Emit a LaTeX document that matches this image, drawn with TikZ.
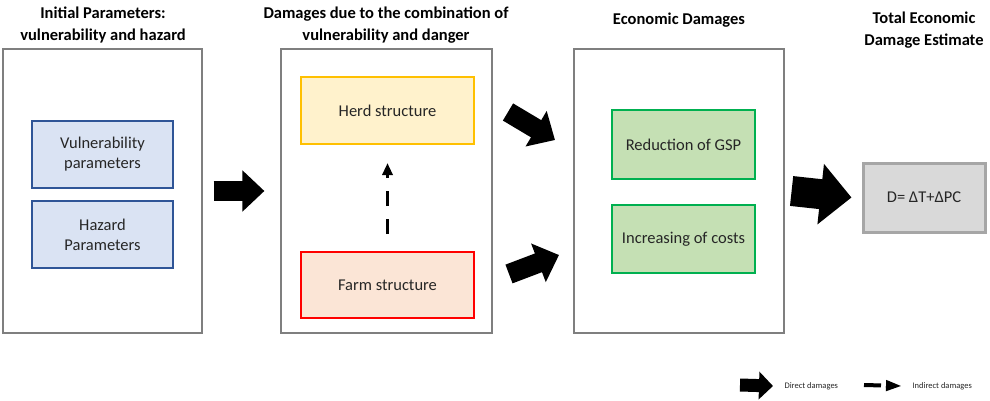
\documentclass[tikz,border=0pt]{standalone}
\usepackage{fontspec}
\setmainfont{Carlito}
\usetikzlibrary{arrows.meta}

\definecolor{panelgray}{HTML}{7F7F7F}
\definecolor{txt}{HTML}{262626}
\definecolor{blueline}{HTML}{2F5597}
\definecolor{bluefill}{HTML}{DAE3F3}
\definecolor{yelline}{HTML}{FFC000}
\definecolor{yelfill}{HTML}{FFF2CC}
\definecolor{redfill}{HTML}{FBE5D6}
\definecolor{greenline}{HTML}{00B050}
\definecolor{greenfill}{HTML}{C5E0B4}
\definecolor{grayline}{HTML}{A6A6A6}
\definecolor{grayfill}{HTML}{D9D9D9}

\tikzset{
  panel/.style={draw=panelgray, line width=1.2pt, minimum height=284pt},
  title/.style={font=\fontsize{16.5}{22}\selectfont\bfseries, text=black, align=center},
  box/.style={line width=2pt, text=txt, align=center,
    font=\fontsize{16.5}{20}\selectfont, minimum width=#1},
  fatarrow/.style={line width=20pt, -{Triangle[length=22pt,width=40pt]}},
  dasharrow/.style={line width=3pt, dash pattern=on 15pt off 13pt,
    -{Triangle[length=12pt,width=10pt]}},
  legend/.style={anchor=west, font=\fontsize{8.5}{10}\selectfont, text=txt}
}

\begin{document}
\begin{tikzpicture}[x=1pt,y=-1pt]
  \useasboundingbox (0,0) rectangle (990,401);

  \node[title] (t1) at (103,25) {Initial Parameters:\\vulnerability and hazard};
  \node[title] (t2) at (386,25) {Damages due to the combination of\\vulnerability and danger};
  \node[title] (t3) at (679,20) {Economic Damages};
  \node[title] (t4) at (924,30) {Total Economic\\Damage Estimate};

  \node[panel, minimum width=199pt] (p1) at (102.5,191) {};
  \node[panel, minimum width=211pt] (p2) at (386.5,191) {};
  \node[panel, minimum width=210pt] (p3) at (679,191) {};

  \node[box=141pt, minimum height=67pt, draw=blueline, fill=bluefill] (vul) at (102.5,154.5) {Vulnerability\\parameters};
  \node[box=141pt, minimum height=67pt, draw=blueline, fill=bluefill] (haz) at (102.5,234.5) {Hazard\\Parameters};

  \node[box=173pt, minimum height=67pt, draw=yelline, fill=yelfill] (herd) at (387.5,110.5) {Herd structure};
  \node[box=173pt, minimum height=66pt, draw=red, fill=redfill] (farm) at (387.5,285) {Farm structure};

  \node[box=143pt, minimum height=69pt, line width=2.6pt, draw=greenline, fill=greenfill] (gsp) at (683.5,144.5) {Reduction of GSP};
  \node[box=143pt, minimum height=68pt, line width=2.6pt, draw=greenline, fill=greenfill] (cost) at (683.5,239) {Increasing of costs};

  \node[box=122pt, minimum height=69pt, line width=3pt, draw=grayline, fill=grayfill] (total) at (924,197.5) {D= ΔT+ΔPC};

  \coordinate (d1a) at (508,112);
  \coordinate (d1b) at (555,140);
  \coordinate (d2a) at (509,274);
  \coordinate (d2b) at (559,255);

  \draw[fatarrow] ([xshift=11pt]p1.east) -- ([xshift=-16pt]p2.west);
  \draw[fatarrow] (d1a) -- (d1b);
  \draw[fatarrow] (d2a) -- (d2b);
  \draw[line width=30pt, -{Triangle[length=31pt,width=59pt]}] ([xshift=7pt]p3.east) -- ([xshift=-10pt]total.west);
  \draw[dasharrow] ([yshift=17pt]farm.north) -- ([yshift=-18pt]herd.south);

  \node[legend] (dir) at (781,386) {Direct damages};
  \node[legend] (ind) at (909,386) {Indirect damages};
  \coordinate (lg1) at (740,385);
  \coordinate (lg2) at (864,385);
  \draw[line width=13pt, -{Triangle[length=14pt,width=27pt]}] (lg1) -- ([xshift=-8pt]dir.west);
  \draw[line width=4pt, dash pattern=on 17pt off 5pt, -{Triangle[length=16pt,width=10pt]}] (lg2) -- ([xshift=-7pt]ind.west);
\end{tikzpicture}
\end{document}
